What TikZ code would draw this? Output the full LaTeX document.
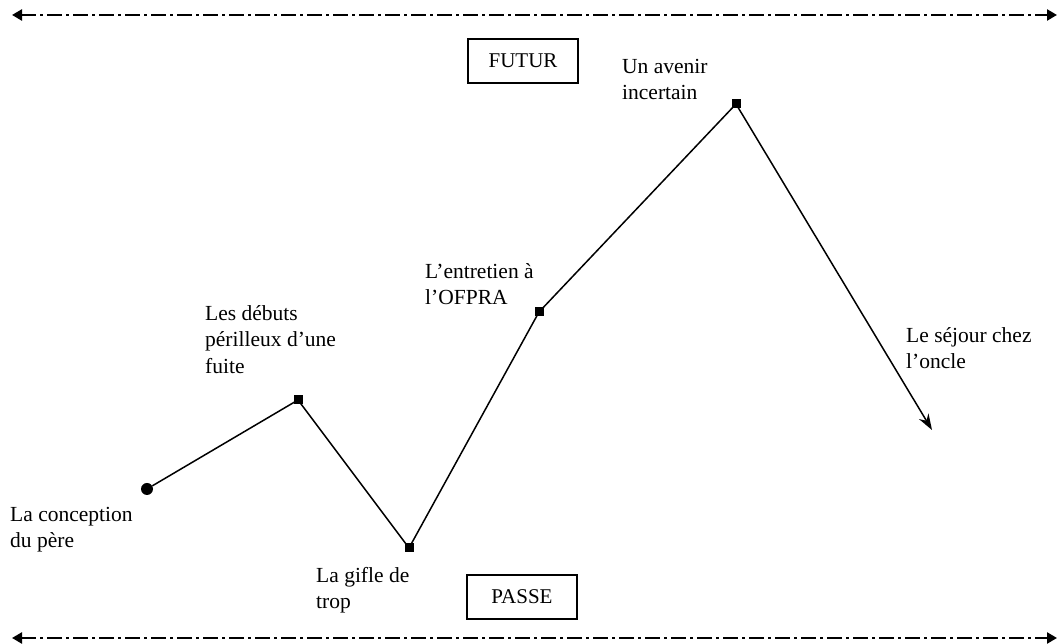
\documentclass[tikz,border=0pt]{standalone}
\usepackage{fontspec}
\setmainfont{Liberation Serif}
\usetikzlibrary{arrows.meta}
\begin{document}
\begin{tikzpicture}[x=1pt,y=1pt,
  lbl/.style={anchor=north west,inner sep=0pt,align=left,font=\fontsize{21.5}{26.5}\selectfont},
  boxlbl/.style={draw,line width=1.6pt,minimum width=110pt,minimum height=44pt,inner sep=0pt,font=\fontsize{21}{24}\selectfont},
  timeline/.style={line width=2.4pt,dash pattern=on 15pt off 4pt on 3pt off 4pt,{Triangle[length=10pt,width=11pt]}-{Triangle[length=10pt,width=11pt]}},
  path/.style={line width=1.5pt},
  sq/.style={fill,inner sep=0pt,minimum size=9pt},
  dot/.style={circle,fill,inner sep=0pt,minimum size=12pt}]
\useasboundingbox (0,0) rectangle (1058,644);
% timelines
\coordinate (tl) at (12,629);
\coordinate (tr) at (1057,629);
\coordinate (bl) at (12,6);
\coordinate (br) at (1057,6);
\draw[timeline] (tl) -- (tr);
\draw[timeline] (bl) -- (br);
% boxes
\node[boxlbl] (futur) at (523,583) {FUTUR};
\node[boxlbl] (passe) at (522,47) {PASSE};
% points
\node[dot] (a) at (147,155) {};
\node[sq] (b) at (298,244) {};
\node[sq] (c) at (409,96) {};
\node[sq] (d) at (539,332) {};
\node[sq] (e) at (736,540) {};
\coordinate (f) at (932,214);
\draw[path] (a) -- (b.center) -- (c.center) -- (d.center) -- (e.center);
\draw[path,-{Stealth[length=16pt,width=11pt]}] (e.center) -- (f);
% labels
\node[lbl] (la) at (10,137) {La conception\\du père};
\node[lbl] (lb) at (205,339) {Les débuts\\périlleux d’une\\fuite};
\node[lbl] (lc) at (316,77) {La gifle de\\trop};
\node[lbl] (ld) at (425,381) {L’entretien à\\l’OFPRA};
\node[lbl] (le) at (622,585) {Un avenir\\incertain};
\node[lbl] (lf) at (906,317) {Le séjour chez\\l’oncle};
\end{tikzpicture}
\end{document}
